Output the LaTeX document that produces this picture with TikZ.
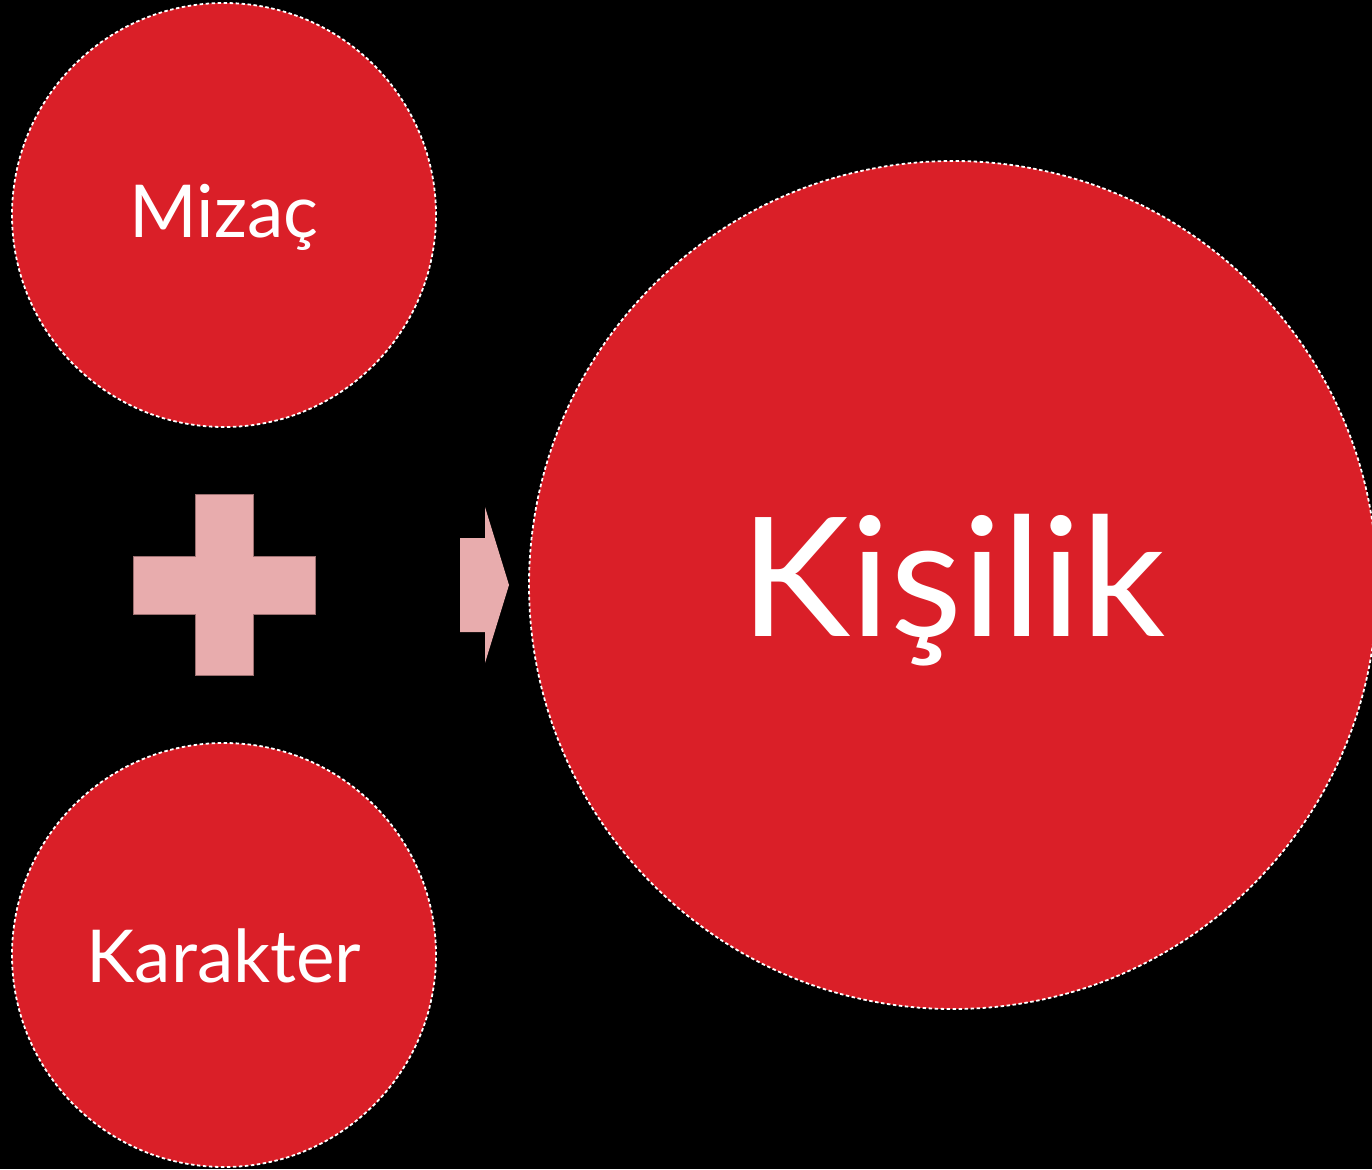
\documentclass[tikz,border=0pt]{standalone}
\usepackage{fontspec}
\setmainfont{Lato}
\definecolor{circred}{HTML}{DA1F28}
\definecolor{signpink}{HTML}{E8ACAD}
\definecolor{signedge}{HTML}{9C6F70}
\begin{document}
\begin{tikzpicture}[x=1pt,y=-1pt,
  bubble/.style={circle, fill=circred, draw=white, line width=1.8pt,
    dash pattern=on 3.5pt off 2.5pt, text=white, inner sep=0pt, minimum size=#1},
  sign/.style={fill=signpink, draw=signedge, line width=0.6pt}]
  \useasboundingbox (0,0) rectangle (1372,1169);
  \fill[black] (0,0) rectangle (1372,1169);
  \clip (0,0) rectangle (1372,1169);

  % input circles
  \node[bubble=424pt] (mizac) at (224,215) {};
  \node[text=white] at ([yshift=-2pt]mizac.center)
    {\fontsize{73}{80}\selectfont Mizaç};
  \node[bubble=424pt] (karakter) at (224,955) {};
  \node[text=white] at ([yshift=-1pt]karakter.center)
    {\fontsize{73}{80}\selectfont Karakter};

  % result circle
  \node[bubble=848pt] (kisilik) at (953,585) {};
  \node[text=white] at ([yshift=-5pt]kisilik.center)
    {\fontsize{166}{180}\selectfont Kişilik};

  % plus sign
  \path[sign]
    (195,494) -- (253,494) -- (253,556) -- (315,556) -- (315,614) --
    (253,614) -- (253,675) -- (195,675) -- (195,614) -- (133,614) --
    (133,556) -- (195,556) -- cycle;

  % arrow pointing to the result
  \fill[signpink]
    (460,538) -- (485,538) -- (485,507) -- (509,585) -- (485,663) --
    (485,632) -- (460,632) -- cycle;
\end{tikzpicture}
\end{document}
